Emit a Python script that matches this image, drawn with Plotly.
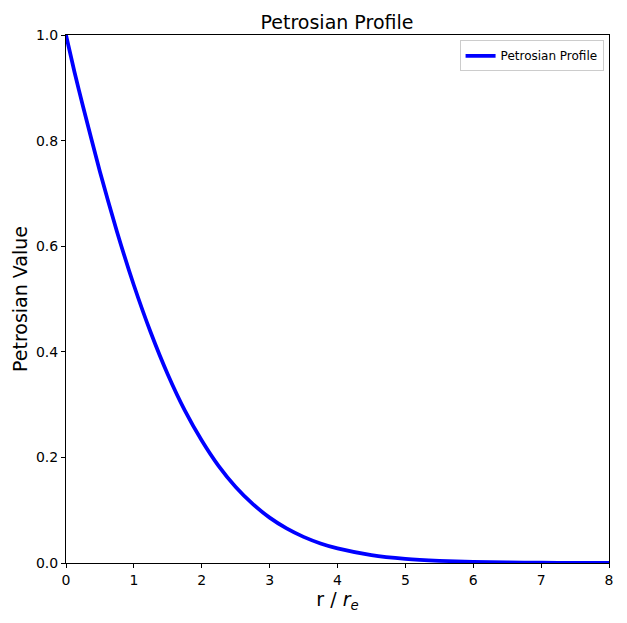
import plotly.graph_objects as go

r_values = [0.0, 0.125, 0.25, 0.5, 0.75, 1.0, 1.25, 1.5, 1.75, 2.0, 2.25, 2.5, 2.75,
            3.0, 3.25, 3.5, 3.75, 4.0, 4.5, 5.0, 5.5, 6.0, 6.5, 7.0, 7.5, 8.0]
petrosian = [1.0, 0.930, 0.865, 0.741, 0.628, 0.526, 0.436, 0.357, 0.289, 0.232, 0.1835,
             0.144, 0.112, 0.0859, 0.0655, 0.0495, 0.0371, 0.0277, 0.0151, 0.0080,
             0.0042, 0.00215, 0.00108, 0.00055, 0.00027, 0.00013]

title_text = "Petrosian Profile"
x_label = "r / <i>r<sub>e</sub></i>"
y_label = "Petrosian Value"
x_ticks = [0, 1, 2, 3, 4, 5, 6, 7, 8]
y_ticks = [0.0, 0.2, 0.4, 0.6, 0.8, 1.0]

fig = go.Figure()
fig.add_trace(go.Scatter(
    x=r_values, y=petrosian, mode="lines", name="Petrosian Profile",
    line=dict(color="#0000ff", width=3.75, shape="spline", smoothing=0.6),
))

font_family = "DejaVu Sans"
fig.update_layout(
    width=627, height=623,
    margin=dict(l=58, r=26, t=27, b=68, autoexpand=False),
    paper_bgcolor="white", plot_bgcolor="white",
    font=dict(family=font_family, color="black"),
    title=dict(text=title_text, x=(337 - 8) / 627, xanchor="center",
               y=1 - 14 / 623, yanchor="middle",
               font=dict(size=19, family=font_family, color="black")),
    showlegend=True,
    legend=dict(x=0.99, y=0.99, xanchor="right", yanchor="top",
                bgcolor="rgba(255,255,255,0.8)", bordercolor="#cccccc", borderwidth=1,
                font=dict(size=12, family=font_family)),
    xaxis=dict(range=[0, 8], tickvals=x_ticks, ticktext=[str(v) for v in x_ticks],
               showgrid=False, zeroline=False, showline=True, linecolor="black", linewidth=1,
               mirror=True, ticks="outside", ticklen=4, tickcolor="black",
               tickfont=dict(size=14), title=dict(text=x_label, font=dict(size=19), standoff=0)),
    yaxis=dict(range=[0, 1], tickvals=y_ticks, ticktext=[f"{v:.1f}" for v in y_ticks],
               showgrid=False, zeroline=False, showline=True, linecolor="black", linewidth=1,
               mirror=True, ticks="outside", ticklen=4, tickcolor="black",
               tickfont=dict(size=14), title=dict(text=y_label, font=dict(size=19), standoff=3)),
)

fig.write_html("out.html")
